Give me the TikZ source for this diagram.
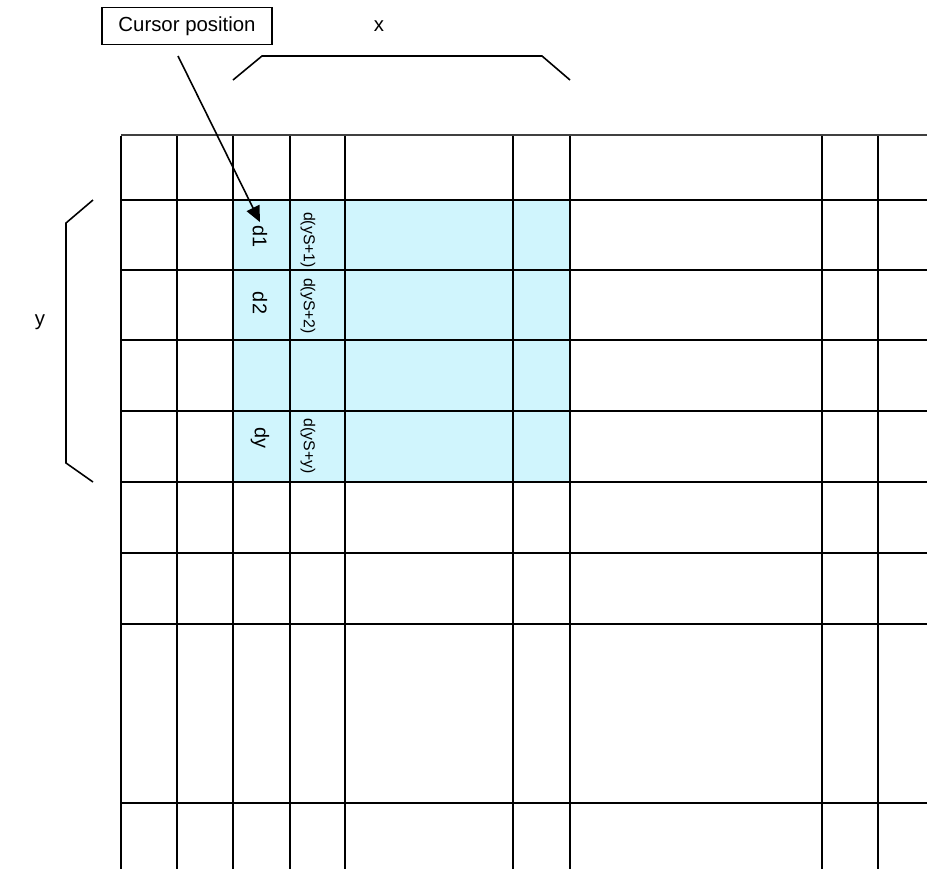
\documentclass[tikz,border=0pt]{standalone}
\usepackage{fontspec}
\setmainfont{Liberation Sans}
\usetikzlibrary{arrows.meta}
\definecolor{cellblue}{RGB}{208,245,253}
\tikzset{
  gridline/.style={black, line width=1pt},
  bracket/.style={black, line width=0.9pt},
  biglabel/.style={font=\fontsize{11.6}{13}\selectfont, inner sep=1pt},
  celllabel/.style={font=\fontsize{11.3}{13}\selectfont, inner sep=2pt, rotate=-90},
  smalllabel/.style={font=\fontsize{9}{11}\selectfont, inner sep=1pt, rotate=-90},
  cursorarrow/.style={-{Triangle[length=9pt,width=8pt]}, line width=0.9pt}
}
\begin{document}
\begin{tikzpicture}[x=0.02cm,y=-0.02cm]
   \useasboundingbox (0,0) rectangle (927,869);

   %shade the selected block
   \fill[cellblue] (233,200) rectangle (570,482);

   %draw grid lines
   \draw[gridline, black!75] (121,135) -- (927,135);
   \foreach \j in {200,270,340,411,482,553,624,803}{
       \draw[gridline] (121,\j) -- (927,\j);
   }
   \foreach \i in {121,177,233,290,345,513,570,822,878}{
       \draw[gridline] (\i,136) -- (\i,869);
   }

   %cell labels
   \node[celllabel] (d1) at (260,237) {d1};
   \node[celllabel] (d2) at (260,303) {d2};
   \node[celllabel] (dy) at (260,438) {dy};
   \node[smalllabel] (dS1) at (308,240) {d(yS+1)};
   \node[smalllabel] (dS2) at (308,306) {d(yS+2)};
   \node[smalllabel] (dSy) at (308,446) {d(yS+y)};

   %brackets
   \node[biglabel] (xlabel) at (379,26) {x};
   \draw[bracket] (233,80) -- (262,56) -- (542,56) -- (570,80);
   \node[biglabel] (ylabel) at (40,322) {y};
   \draw[bracket] (93,200) -- (66,223) -- (66,463) -- (93,482);

   %cursor
   \node[biglabel, draw, line width=0.9pt, minimum width=170*0.02cm, minimum height=37*0.02cm] (cursor) at (187,26) {Cursor position};
   \coordinate (arrowstart) at (178,56);
   \draw[cursorarrow] (arrowstart) -- (d1.west);
\end{tikzpicture}
\end{document}
